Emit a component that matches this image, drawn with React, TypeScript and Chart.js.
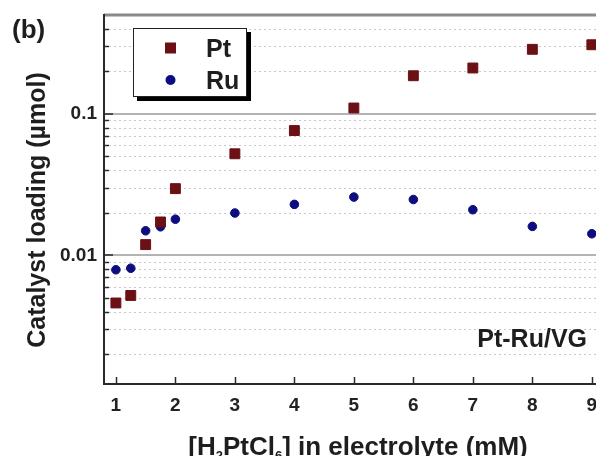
import React, { useEffect, useRef } from "react";
import { Chart, registerables } from "chart.js";

Chart.register(...registerables);

const concentrations = [1, 1.25, 1.5, 1.75, 2, 3, 4, 5, 6, 7, 8, 9];
const ptLoading = [0.0046, 0.0052, 0.0119, 0.0172, 0.0296, 0.0522, 0.0762, 0.11, 0.186, 0.211, 0.286, 0.308];
const ruLoading = [0.0079, 0.0081, 0.0149, 0.0159, 0.018, 0.0199, 0.0229, 0.0258, 0.0248, 0.021, 0.016, 0.0142];
const xTicks = [1, 2, 3, 4, 5, 6, 7, 8, 9];
const yMajorTicks = [0.01, 0.1];
const yMinorTicks = [0.002, 0.003, 0.004, 0.005, 0.006, 0.007, 0.008, 0.009, 0.02, 0.03, 0.04, 0.05, 0.06, 0.07, 0.08, 0.09, 0.2, 0.3, 0.4];
const seriesLabels = ["Pt", "Ru"];
const panelLabel = "(b)";
const sampleLabel = "Pt-Ru/VG";
const yTitle = "Catalyst loading (\u00b5mol)";

const FONT = "'Liberation Sans', Arial, Helvetica, sans-serif";
const PT_COLOR = "#6b1014";
const RU_COLOR = "#0d0d80";

const decorPlugin = {
  id: "decor",
  beforeDatasetsDraw(chart: any) {
    const { ctx, chartArea } = chart;
    const xs = chart.scales.x;
    const ys = chart.scales.y;
    const { left, right, top, bottom } = chartArea;
    ctx.save();
    ctx.strokeStyle = "#c8c8c8";
    ctx.lineWidth = 1;
    ctx.setLineDash([2, 3]);
    yMinorTicks.forEach((v) => {
      const y = Math.round(ys.getPixelForValue(v)) + 0.5;
      ctx.beginPath();
      ctx.moveTo(left, y);
      ctx.lineTo(right, y);
      ctx.stroke();
    });
    ctx.setLineDash([]);
    ctx.strokeStyle = "#b4b4b4";
    ctx.lineWidth = 2;
    yMajorTicks.forEach((v) => {
      const y = Math.round(ys.getPixelForValue(v));
      ctx.beginPath();
      ctx.moveTo(left, y);
      ctx.lineTo(right, y);
      ctx.stroke();
    });
    ctx.strokeStyle = "#8a8a8a";
    ctx.lineWidth = 3;
    ctx.beginPath();
    ctx.moveTo(left, top);
    ctx.lineTo(right, top);
    ctx.stroke();
    ctx.strokeStyle = "#2a2a2a";
    ctx.lineWidth = 2;
    ctx.beginPath();
    ctx.moveTo(left, top - 1);
    ctx.lineTo(left, bottom);
    ctx.lineTo(right, bottom);
    ctx.stroke();
    ctx.lineWidth = 1.5;
    yMinorTicks.forEach((v) => {
      const y = Math.round(ys.getPixelForValue(v)) + 0.5;
      ctx.beginPath();
      ctx.moveTo(left, y);
      ctx.lineTo(left + 5, y);
      ctx.stroke();
    });
    yMajorTicks.forEach((v) => {
      const y = Math.round(ys.getPixelForValue(v));
      ctx.beginPath();
      ctx.moveTo(left, y);
      ctx.lineTo(left + 9, y);
      ctx.stroke();
    });
    xTicks.forEach((v) => {
      const x = Math.round(xs.getPixelForValue(v)) + 0.5;
      ctx.beginPath();
      ctx.moveTo(x, bottom);
      ctx.lineTo(x, bottom - 7);
      ctx.stroke();
    });
    ctx.restore();
  },
  afterDraw(chart: any) {
    const { ctx } = chart;
    ctx.save();
    ctx.fillStyle = "#1e1e1e";
    ctx.font = `bold 26px ${FONT}`;
    ctx.textAlign = "left";
    ctx.textBaseline = "alphabetic";
    ctx.fillText(panelLabel, 12, 38);
    ctx.font = `bold 25px ${FONT}`;
    ctx.textAlign = "right";
    ctx.fillText(sampleLabel, 587, 347);
    const bx = 133, by = 28, bw = 114, bh = 69;
    ctx.fillStyle = "#000";
    ctx.fillRect(bx + 4, by + 4, bw, bh);
    ctx.fillStyle = "#fff";
    ctx.fillRect(bx, by, bw, bh);
    ctx.strokeStyle = "#222";
    ctx.lineWidth = 1;
    ctx.strokeRect(bx + 0.5, by + 0.5, bw - 1, bh - 1);
    const ds = chart.data.datasets;
    ctx.fillStyle = ds[0].backgroundColor;
    ctx.fillRect(170.5 - 5.5, 48 - 5.5, 11, 11);
    ctx.fillStyle = ds[1].backgroundColor;
    ctx.beginPath();
    ctx.arc(170.5, 80, 5, 0, Math.PI * 2);
    ctx.fill();
    ctx.fillStyle = "#1e1e1e";
    ctx.font = `bold 25px ${FONT}`;
    ctx.textAlign = "left";
    ctx.fillText(ds[0].label, 206, 57);
    ctx.fillText(ds[1].label, 206, 89);
    ctx.save();
    ctx.translate(45, 210);
    ctx.rotate(-Math.PI / 2);
    ctx.textAlign = "center";
    ctx.font = `bold 25px ${FONT}`;
    ctx.fillText(yTitle, 0, 0);
    ctx.restore();
    const parts: [string, boolean][] = [
      ["[H", false],
      ["2", true],
      ["PtCl", false],
      ["6", true],
      ["] in electrolyte (mM)", false],
    ];
    const big = `bold 26px ${FONT}`;
    const small = `bold 13px ${FONT}`;
    let total = 0;
    parts.forEach(([t, sub]) => {
      ctx.font = sub ? small : big;
      total += ctx.measureText(t).width;
    });
    let x = 358 - total / 2;
    const base = 455;
    ctx.textAlign = "left";
    parts.forEach(([t, sub]) => {
      ctx.font = sub ? small : big;
      ctx.fillText(t, x, sub ? base + 5 : base);
      x += ctx.measureText(t).width;
    });
    ctx.restore();
  },
};

export default function App() {
  const ref = useRef<HTMLCanvasElement | null>(null);
  useEffect(() => {
    if (!ref.current) return;
    const chart = new Chart(ref.current, {
      type: "scatter",
      data: {
        datasets: [
          {
            label: seriesLabels[0],
            data: concentrations.map((c, i) => ({ x: c, y: ptLoading[i] })),
            backgroundColor: PT_COLOR,
            borderColor: PT_COLOR,
            borderWidth: 1,
            pointStyle: "rect",
            pointRadius: 7,
            clip: false,
          },
          {
            label: seriesLabels[1],
            data: concentrations.map((c, i) => ({ x: c, y: ruLoading[i] })),
            backgroundColor: RU_COLOR,
            borderColor: RU_COLOR,
            borderWidth: 1,
            pointStyle: "circle",
            pointRadius: 4.3,
            clip: false,
          },
        ],
      },
      options: {
        responsive: false,
        animation: false,
        devicePixelRatio: 1,
        layout: { autoPadding: false, padding: { top: 15, right: 0, left: 0, bottom: 0 } },
        plugins: { legend: { display: false }, tooltip: { enabled: false }, title: { display: false } },
        scales: {
          x: {
            type: "linear",
            min: 0.8,
            max: 9.07,
            afterBuildTicks: (scale: any) => {
              scale.ticks = xTicks.map((v) => ({ value: v }));
            },
            afterFit: (scale: any) => {
              scale.height = 72;
              scale.paddingLeft = 0;
              scale.paddingRight = 0;
            },
            grid: { display: false, drawTicks: false },
            border: { display: false },
            ticks: {
              autoSkip: false,
              maxRotation: 0,
              padding: 10,
              color: "#222",
              font: { family: FONT, size: 19, weight: "bold" },
              callback: (v: any) => String(v),
            },
          },
          y: {
            type: "logarithmic",
            min: 0.00123,
            max: 0.5,
            afterBuildTicks: (scale: any) => {
              scale.ticks = [...yMinorTicks, ...yMajorTicks].sort((a, b) => a - b).map((v) => ({ value: v }));
            },
            afterFit: (scale: any) => {
              scale.width = 104;
              scale.paddingTop = 0;
              scale.paddingBottom = 0;
            },
            grid: { display: false, drawTicks: false },
            border: { display: false },
            ticks: {
              autoSkip: false,
              padding: 7,
              color: "#222",
              font: { family: FONT, size: 19, weight: "bold" },
              callback: (v: any) => (yMajorTicks.includes(Number(v)) ? String(Number(v)) : ""),
            },
          },
        },
      },
      plugins: [decorPlugin],
    });
    return () => chart.destroy();
  }, []);
  return (
    <div style={{ position: "absolute", left: 0, top: 0, width: 596, height: 456, background: "#fff" }}>
      <canvas ref={ref} width={596} height={456} style={{ display: "block" }} />
    </div>
  );
}
